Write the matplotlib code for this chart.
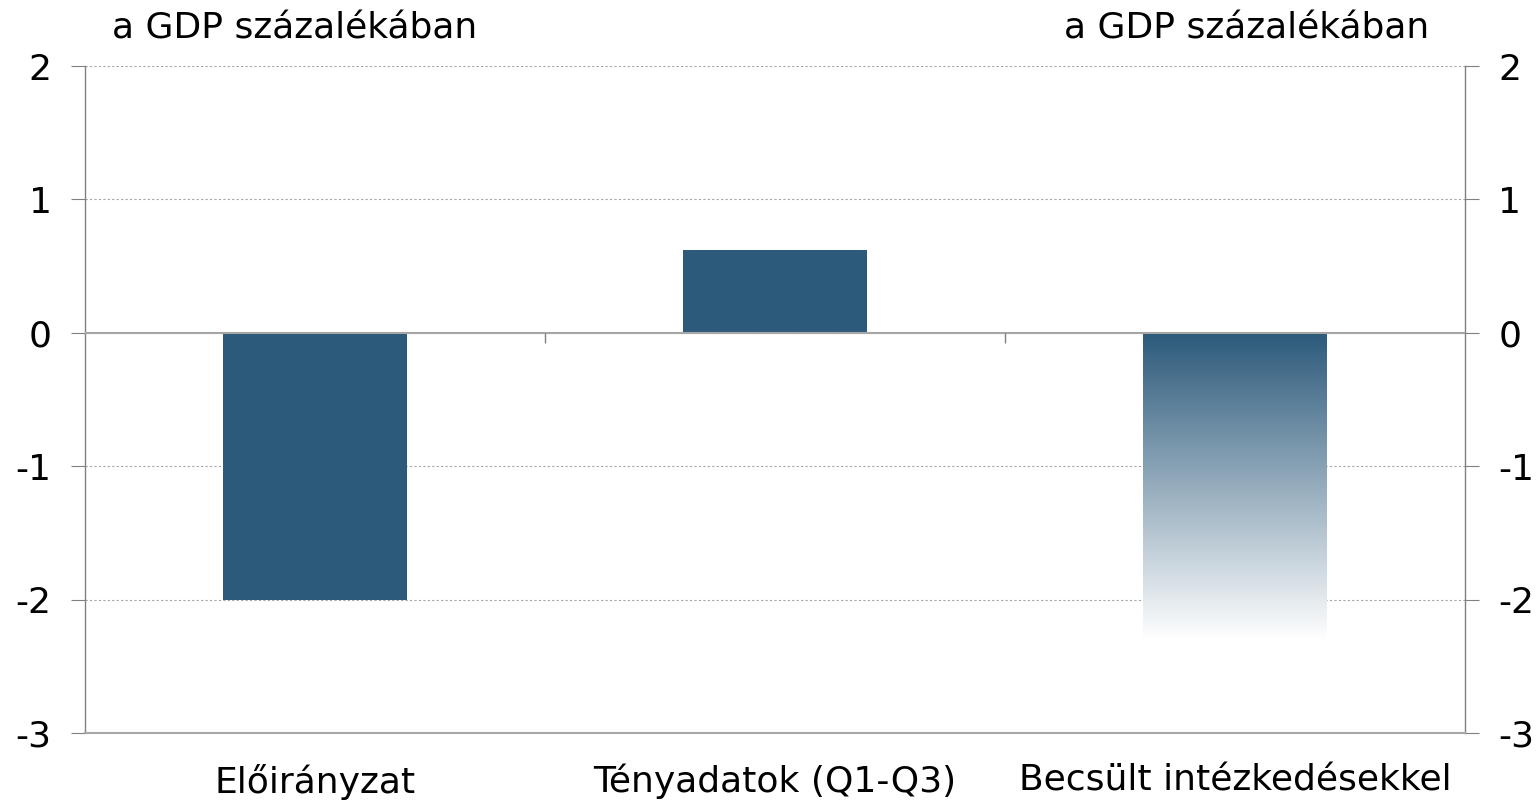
import matplotlib.pyplot as plt
import numpy as np
from matplotlib.colors import LinearSegmentedColormap

categories = ['Előirányzat', 'Tényadatok (Q1-Q3)', 'Becsült intézkedésekkel']
values = [-2.0, 0.62, -2.3]
gradient_bar = [False, False, True]
unit_label = 'a GDP százalékában'
y_ticks = [2, 1, 0, -1, -2, -3]
y_ticklabels = ['2', '1', '0', '-1', '-2', '-3']

bar_color = '#2C5A7B'
grid_color = '#A6A6A6'
font = {'family': 'DejaVu Sans', 'size': 26}

fig = plt.figure(figsize=(15.4, 8.02), dpi=100)
ax = fig.add_axes([0.0552, 0.086, 0.8961, 0.8317])

x = np.arange(len(categories))
width = 0.4
for xi, v, grad in zip(x, values, gradient_bar):
    if not grad:
        ax.bar(xi, v, width=width, color=bar_color, zorder=3)
    else:
        # fading bar: full colour at zero, white at the bottom
        b = ax.bar(xi, v, width=width, color='none', zorder=3)[0]
        cmap = LinearSegmentedColormap.from_list('fade', [bar_color, '#FFFFFF'])
        grad_img = np.linspace(0, 1, 256).reshape(-1, 1)
        im = ax.imshow(grad_img, cmap=cmap, aspect='auto', zorder=3,
                       extent=[xi - width / 2, xi + width / 2, v, 0], origin='upper')
        im.set_clip_path(b)

ax.set_xlim(-0.5, len(categories) - 0.5)
ax.set_ylim(-3, 2)
ax.set_yticks(y_ticks)
ax.set_yticklabels(y_ticklabels, fontdict=font)
ax.yaxis.grid(True, color=grid_color, linestyle=(0, (2, 2)), linewidth=0.8, zorder=0)
ax.axhline(0, color=grid_color, linewidth=1.5, zorder=4)
# category boundary ticks hanging from the zero line
ax.vlines(x[:-1] + 0.5, -0.08, 0, color='#808080', linewidth=1, zorder=4)

ax.set_xticks(x)
ax.set_xticklabels(categories, fontdict=font)
ax.tick_params(axis='x', length=0, pad=22)
ax.tick_params(axis='y', which='both', left=True, right=True, labelleft=True,
               labelright=True, length=10, color='#808080', direction='out', pad=14)
for lab in ax.get_yticklabels(which='both'):
    lab.set_fontsize(26)

for s in ['left', 'right']:
    ax.spines[s].set_color('#808080')
    ax.spines[s].set_linewidth(1)
ax.spines['bottom'].set_color(grid_color)
ax.spines['bottom'].set_linewidth(1.5)
ax.spines['top'].set_visible(False)

fig.text(0.073, 0.965, unit_label, ha='left', va='center', **font)
fig.text(0.928, 0.965, unit_label, ha='right', va='center', **font)

fig.savefig('out.png', dpi=100)
